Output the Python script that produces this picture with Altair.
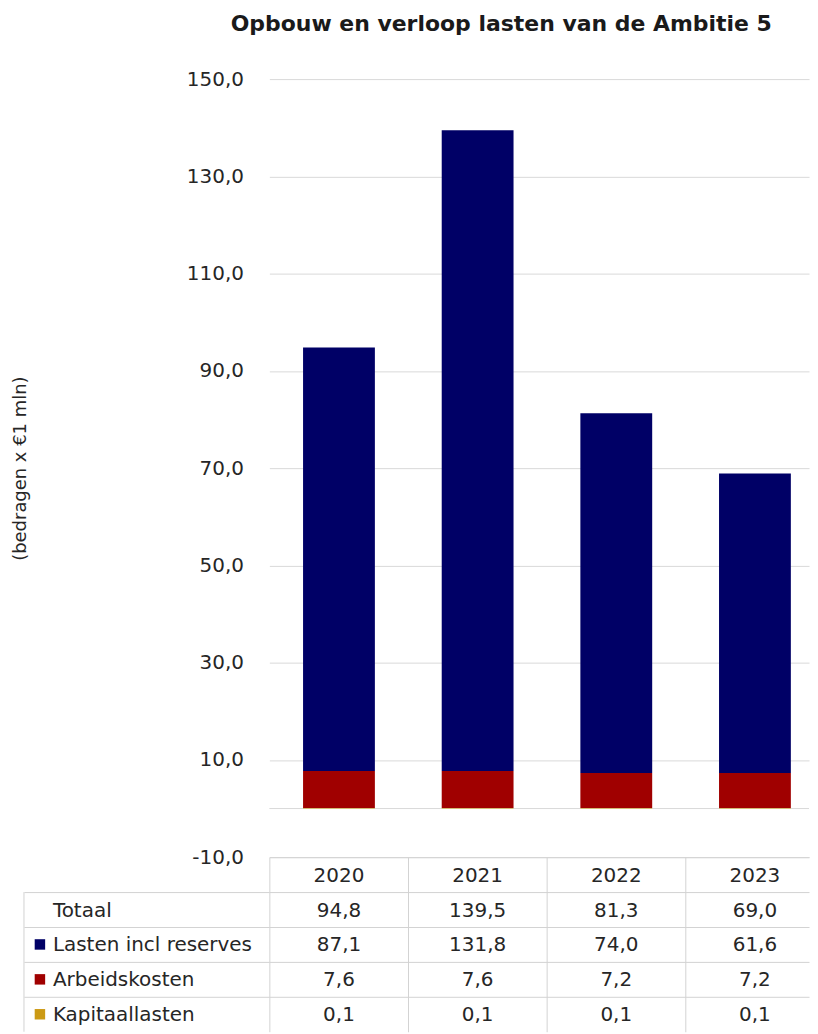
import altair as alt
import pandas as pd

# ---- data -------------------------------------------------------------
years = ["2020", "2021", "2022", "2023"]
series = ["Kapitaallasten", "Arbeidskosten", "Lasten incl reserves"]
kapitaallasten = [0.1, 0.1, 0.1, 0.1]
arbeidskosten = [7.6, 7.6, 7.2, 7.2]
lasten_incl_reserves = [87.1, 131.8, 74.0, 61.6]
totaal = [94.8, 139.5, 81.3, 69.0]
y_ticks = [-10, 10, 30, 50, 70, 90, 110, 130, 150]
table_rows = ["Totaal", "Lasten incl reserves", "Arbeidskosten", "Kapitaallasten"]
colors = ["#CC9A14", "#A00000", "#000066"]

FONT = "DejaVu Sans"
TEXT = "#262626"
GRID = "#D9D9D9"
BORDER = "#D3D3D3"

PLOT_W = 541
PLOT_H = 780
ROW_H = 35
LABEL_COL = 246
P_IN, P_OUT, ALIGN = 0.482, 0.187, 0.65
DIVIDER_POS = -0.465  # half the gap between columns, in bar widths


def fmt(v):
    return f"{v:.1f}".replace(".", ",")


values_by_series = {
    "Kapitaallasten": kapitaallasten,
    "Arbeidskosten": arbeidskosten,
    "Lasten incl reserves": lasten_incl_reserves,
}

bar_rows = []
for si, s in enumerate(series):
    for yi, yr in enumerate(years):
        bar_rows.append({"year": yr, "series": s, "value": values_by_series[s][yi], "order": si})
bars_df = pd.DataFrame(bar_rows)

row_keys = ["hdr"] + table_rows
cell_rows = []
for yi, yr in enumerate(years):
    cell_rows.append({"year": yr, "row": "hdr", "label": yr})
    cell_rows.append({"year": yr, "row": "Totaal", "label": fmt(totaal[yi])})
    cell_rows.append({"year": yr, "row": "Lasten incl reserves", "label": fmt(lasten_incl_reserves[yi])})
    cell_rows.append({"year": yr, "row": "Arbeidskosten", "label": fmt(arbeidskosten[yi])})
    cell_rows.append({"year": yr, "row": "Kapitaallasten", "label": fmt(kapitaallasten[yi])})
cells_df = pd.DataFrame(cell_rows)
labels_df = pd.DataFrame({"row": table_rows})
keys_df = pd.DataFrame({"row": series})


def x_scale():
    return alt.Scale(type="band", domain=years, paddingInner=P_IN, paddingOuter=P_OUT, align=ALIGN)


# ---- top: stacked bars ------------------------------------------------
x_top = alt.X("year:N", sort=years, scale=x_scale(), axis=None)
y_scale = alt.Scale(domain=[-10, 150], nice=False, zero=False)
y_axis = alt.Axis(
    values=y_ticks,
    labelExpr="replace(replace(format(datum.value, '.1f'), '.', ','), '\u2212', '-')",
    grid=True,
    gridColor=GRID,
    domain=False,
    ticks=False,
    labelFont=FONT,
    labelFontSize=20,
    labelColor=TEXT,
    labelPadding=26,
    title="(bedragen x \u20ac1 mln)",
    titleFont=FONT,
    titleFontSize=18,
    titleFontWeight="normal",
    titleColor=TEXT,
    titleAngle=-90,
    titleBaseline="middle",
    titleX=-249,
)

bars = alt.Chart(bars_df).mark_bar().encode(
    x=x_top,
    y=alt.Y("value:Q", stack="zero", scale=y_scale, axis=y_axis),
    color=alt.Color("series:N", scale=alt.Scale(domain=series, range=colors), legend=None),
    order=alt.Order("order:Q"),
)

zero_line = alt.Chart(pd.DataFrame({"value": [0]})).mark_rule(color=GRID, strokeWidth=1).encode(
    y=alt.Y("value:Q", scale=y_scale, axis=y_axis)
)

top = alt.layer(zero_line, bars).properties(
    width=PLOT_W,
    height=PLOT_H,
    title=alt.TitleParams(
        "Opbouw en verloop lasten van de Ambitie 5",
        font=FONT,
        fontSize=22,
        fontWeight="bold",
        color="#1a1a1a",
        anchor="middle",
        frame="group",
        dx=-38,
        offset=33,
    ),
)

# ---- bottom: data table -----------------------------------------------
x_bot = alt.X(
    "year:N",
    sort=years,
    scale=x_scale(),
    axis=alt.Axis(
        grid=True, bandPosition=DIVIDER_POS, gridColor=BORDER, labels=False, ticks=False,
        domain=False, title=None,
    ),
)
y_bot = alt.Y(
    "row:N",
    sort=row_keys,
    scale=alt.Scale(type="band", domain=row_keys, paddingInner=0, paddingOuter=0),
    axis=alt.Axis(
        grid=True, bandPosition=0, gridColor=BORDER, labels=False, ticks=True,
        tickSize=LABEL_COL,
        tickColor={"condition": {"test": "datum.value === 'hdr'", "value": "transparent"}, "value": BORDER},
        domain=False, title=None,
    ),
)

cells = alt.Chart(cells_df).mark_text(font=FONT, fontSize=20, color=TEXT, baseline="middle", dy=1).encode(
    x=x_bot, y=y_bot, text="label:N"
)
row_labels = alt.Chart(labels_df).mark_text(
    font=FONT, fontSize=20, color=TEXT, align="left", baseline="middle", dy=1
).encode(x=alt.value(-217), y=y_bot, text="row:N")
keys = alt.Chart(keys_df).mark_square(size=110, opacity=1).encode(
    x=alt.value(-230),
    y=y_bot,
    color=alt.Color("row:N", scale=alt.Scale(domain=series, range=colors), legend=None),
)
left_border = alt.Chart(pd.DataFrame({"row": ["Totaal"]})).mark_rule(color=BORDER).encode(
    x=alt.value(-LABEL_COL), y=alt.value(ROW_H), y2=alt.value(ROW_H * len(row_keys))
)

bottom = alt.layer(left_border, cells, row_labels, keys).properties(
    width=PLOT_W, height=ROW_H * len(row_keys)
)

chart = alt.vconcat(top, bottom, spacing=0, bounds="flush").resolve_scale(
    color="independent"
).properties(
    padding={"left": 4, "top": 4, "right": 0, "bottom": 0}
).configure_view(stroke=None)

chart.save("out.html", embed_options={"renderer": "svg", "actions": False})
